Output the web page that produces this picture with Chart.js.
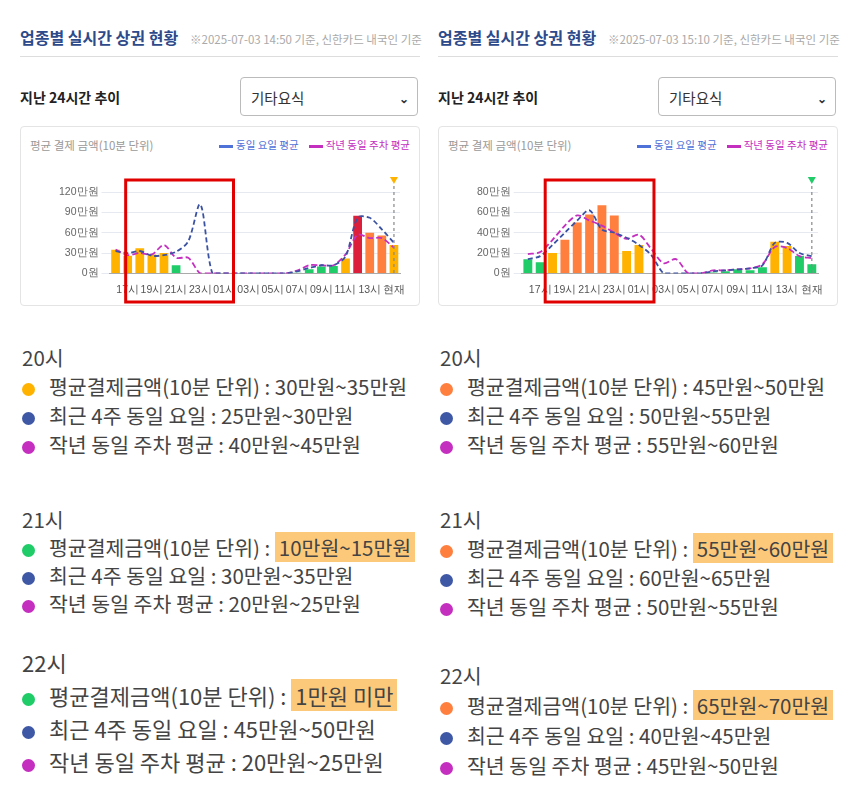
<!DOCTYPE html>
<html><head><meta charset="utf-8">
<script src="https://cdn.jsdelivr.net/npm/chart.js@4"></script>
<style>
body{margin:0;width:860px;height:806px;background:#fff;font-family:"Noto Sans CJK KR","Noto Sans",sans-serif;position:relative;overflow:hidden}
.col{position:absolute;top:0;width:402px;height:806px}
.title{position:absolute;top:25px;left:0;font-size:16px;font-weight:bold;color:#2d4a8a;white-space:nowrap}
.title span{font-size:11.5px;font-weight:normal;color:#aaa;margin-left:12px}
.rule{position:absolute;top:56px;left:0;width:400px;border-top:1px solid #ddd}
.sub{position:absolute;top:87px;left:0;font-size:14px;font-weight:bold;color:#222}
.sel{position:absolute;top:77px;left:220px;width:178px;height:39px;border:1px solid #bbb;border-radius:4px;font-size:14.5px;color:#333;line-height:39px;padding-left:10px;box-sizing:border-box}
.sel b{position:absolute;right:8px;top:0;font-size:12px}
.card{position:absolute;top:126px;left:0;width:400px;height:180px;border:1px solid #e4e4e4;border-radius:4px;box-sizing:border-box}
.ctitle{position:absolute;top:137px;left:10px;font-size:11.5px;color:#999}
.leg{position:absolute;top:137px;right:12px;font-size:10.5px;white-space:nowrap}
.leg i{display:inline-block;width:14px;height:3px;vertical-align:middle;margin:0 3px 0 10px}
canvas{position:absolute}
.blk{position:absolute;left:2px;color:#444;white-space:nowrap}
.blk div{position:absolute;left:0}
.dot{display:inline-block;width:13px;height:13px;border-radius:50%;margin-right:14px;vertical-align:-1px}
.hl{background:#fcc97a;padding:0 4px}
</style></head><body>
<div class="col" id="c1" style="left:20px"></div>
<div class="col" id="c2" style="left:438px"></div>
<script>
// hours: 16시 ... 14시, 현재
const hours = ['16시','17시','18시','19시','20시','21시','22시','23시','00시','01시','02시','03시','04시','05시','06시','07시','08시','09시','10시','11시','12시','13시','14시','현재'];

// left chart (14:50), values in 만원
const payLeft  = [35,26,37,28,30,12,0,0,0,0,0,0,0,0,0,1,6,10,11,22,85,60,56,42];
const weekLeft = [33,30,33,26,27,32,47,102,0,0,0,0,0,0,0,3,8,12,12,25,82,82,65,45];
const yearLeft = [35,27,30,28,42,23,23,0,0,0,0,0,0,0,0,4,12,12,12,28,57,52,52,38];

// right chart (15:10)
const payRight  = [14,11,20,33,50,58,67,57,22,28,0,0,0,0,0,1,2,4,3,6,31,27,17,9];
const weekRight = [14,17,28,40,52,62,43,40,35,28,18,0,0,0,0,2,3,4,5,8,30,30,20,17];
const yearRight = [19,21,33,47,57,52,47,40,34,38,24,10,14,0,0,3,3,4,5,9,26,25,17,15];

const GREEN='#1fcc68', YELLOW='#ffb300', ORANGE='#ff7f3e', RED='#dc1f3a';

function barColors(vals, g, y, o) {
    return vals.map(v => v < g ? GREEN : v <= y ? YELLOW : v < o ? ORANGE : RED);
}

const overlay = {
    id: 'overlay',
    afterDraw(chart) {
        const c = chart.ctx, x = chart.scales.x, a = chart.chartArea;
        const o = chart.options.plugins.overlay;
        const lx = x.getPixelForValue(hours.length - 1);
        c.save();
        c.strokeStyle = '#888'; c.lineWidth = 1.2; c.setLineDash([3, 3]);
        c.beginPath(); c.moveTo(lx, a.top - 6); c.lineTo(lx, a.bottom); c.stroke();
        c.setLineDash([]);
        c.fillStyle = o.tri;
        c.beginPath(); c.moveTo(lx - 4, a.top - 15); c.lineTo(lx + 4, a.top - 15); c.lineTo(lx, a.top - 8); c.fill();
        c.strokeStyle = '#e00000'; c.lineWidth = 3;
        const l = x.getPixelForValue(1) + o.dl, r = x.getPixelForValue(9) + o.dr;
        c.strokeRect(l, 6, r - l, chart.height - 8);
        c.restore();
    }
};

function build(col, stamp, pay, week, year, yMax, step, cols, tri, dl, dr, blocks) {
    const el = document.getElementById(col);
    el.innerHTML = `<div class="title">업종별 실시간 상권 현황<span>※2025-07-03 ${stamp} 기준, 신한카드 내국인 기준</span></div>
    <div class="rule"></div><div class="sub">지난 24시간 추이</div>
    <div class="sel">기타요식<b>&#8964;</b></div><div class="card"></div>
    <div class="ctitle">평균 결제 금액(10분 단위)</div>
    <div class="leg"><i style="background:#4f72d8"></i><span style="color:#4f72d8">동일 요일 평균</span><i style="background:#c42fc0"></i><span style="color:#c42fc0">작년 동일 주차 평균</span></div>
    <canvas id="${col}cv" style="left:8px;top:174px;width:384px;height:130px"></canvas>` + blocks;
    new Chart(document.getElementById(col + 'cv'), {
        type: 'bar',
        data: {
            labels: hours,
            datasets: [
                { type: 'line', data: week, borderColor: '#3b52a3', borderWidth: 1.8, borderDash: [5, 3], pointRadius: 0, tension: 0.3, fill: false },
                { type: 'line', data: year, borderColor: '#c42fc0', borderWidth: 1.8, borderDash: [6, 3], pointRadius: 0, tension: 0.3, fill: false },
                { data: pay, backgroundColor: cols, barPercentage: 0.72, categoryPercentage: 1 }
            ]
        },
        options: {
            responsive: false, animation: false,
            layout: { padding: { top: 18, left: 28, right: 12, bottom: 6 } },
            plugins: { legend: { display: false }, tooltip: { enabled: false }, overlay: { tri, dl, dr } },
            scales: {
                x: { grid: { display: false }, border: { color: '#aaa' },
                     ticks: { autoSkip: false, maxRotation: 0, font: { size: 10.5 }, color: '#555', padding: 2,
                              callback: (v, i) => i % 2 === 1 ? hours[i] : '' } },
                y: { min: 0, max: yMax, grid: { color: '#e6e9f0' }, border: { display: false },
                     ticks: { stepSize: step, font: { size: 10.5 }, color: '#666', callback: v => v === 0 ? '0원' : v + '만원' } }
            }
        },
        plugins: [overlay]
    });
}

function dot(c) { return `<span class="dot" style="background:${c}"></span>`; }
function blk(top, hour, c, a, b, d, hl, fs, gap) {
    const p = hl ? `<span class="hl">${a}</span>` : a;
    return `<div class="blk" style="top:${top}px;font-size:${fs}px">
      <div style="top:0">${hour}</div>
      <div style="top:${gap}px">${dot(c)}평균결제금액(10분 단위) : ${p}</div>
      <div style="top:${gap * 2}px">${dot('#3f58a6')}최근 4주 동일 요일 : ${b}</div>
      <div style="top:${gap * 3}px">${dot('#c42fc0')}작년 동일 주차 평균 : ${d}</div></div>`;
}

build('c1', '14:50', payLeft, weekLeft, yearLeft, 120, 30, barColors(payLeft, 15, 45, 80), '#ffb300', -2, 9,
    blk(342, '20시', YELLOW, '30만원~35만원', '25만원~30만원', '40만원~45만원', false, 20.5, 29) +
    blk(504, '21시', GREEN, '10만원~15만원', '30만원~35만원', '20만원~25만원', true, 20.5, 28) +
    blk(646, '22시', GREEN, '1만원 미만', '45만원~50만원', '20만원~25만원', true, 22, 33));
build('c2', '15:10', payRight, weekRight, yearRight, 80, 20, barColors(payRight, 18, 31, 80), '#1fcc68', 5, 15,
    blk(342, '20시', ORANGE, '45만원~50만원', '50만원~55만원', '55만원~60만원', false, 20.5, 29) +
    blk(504, '21시', ORANGE, '55만원~60만원', '60만원~65만원', '50만원~55만원', true, 20.5, 29) +
    blk(660, '22시', ORANGE, '65만원~70만원', '40만원~45만원', '45만원~50만원', true, 20.5, 30));
</script>
</body></html>
